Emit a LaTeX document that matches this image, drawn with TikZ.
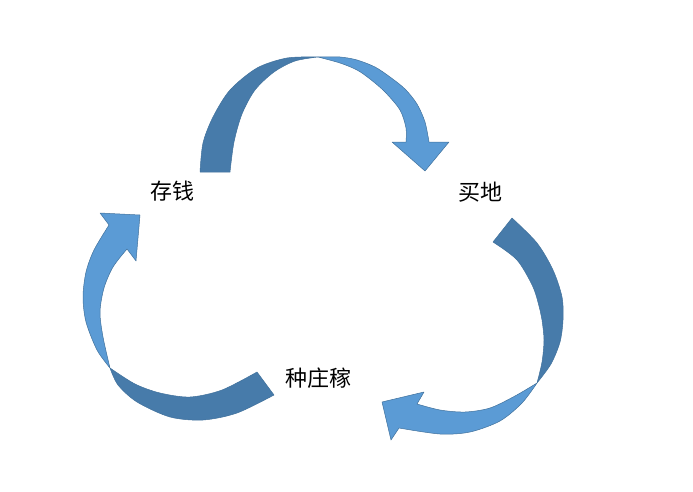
\documentclass[tikz,border=0pt]{standalone}
\usepackage{fontspec}
\newfontfamily\cjk{Noto Sans CJK SC}
\usepackage{xcolor}
\definecolor{backblue}{HTML}{477BAA}
\definecolor{frontblue}{HTML}{5B9BD5}
\definecolor{edgeblue}{HTML}{41719C}

\begin{document}
\begin{tikzpicture}[x=1pt,y=-1pt,
  back/.style={fill=backblue,draw=edgeblue,line width=0.5pt,line join=round},
  front/.style={fill=frontblue,draw=edgeblue,line width=0.5pt,line join=round},
  lbl/.style={font=\cjk\fontsize{22}{26}\selectfont}]
  \useasboundingbox (0,0) rectangle (693,492);
  % 上方箭头：存钱 -> 买地
  \path[back] (200,172) -- plot[smooth] coordinates {(200,172) (203,143) (213,117) (230,90) (257,68) (287,58) (318,57)}
    -- plot[smooth] coordinates {(318,57) (295,61) (274,72) (255,90) (242,114) (234,142) (230,172)} -- cycle;
  \path[front] (318,57) -- plot[smooth] coordinates {(318,57) (340,57) (357,60) (375,67) (390,77) (405,89) (417,104) (425,122) (429,142)}
    -- (449,142) -- (425,171) -- (392,142) -- (406,142)
    -- plot[smooth] coordinates {(406,142) (406,128) (400,110) (385,92) (370,79) (357,70) (340,63) (318,57)} -- cycle;
  % 右侧箭头：买地 -> 种庄稼
  \path[back] (512,218) -- plot[smooth] coordinates {(512,218) (537,243) (553,270) (562,297) (563,320) (560,342) (551,364) (537,383)}
    -- plot[smooth] coordinates {(537,383) (542,362) (544,340) (542,320) (540,310) (533,287) (517,260) (493,242)} -- cycle;
  \path[front] (537,383) -- plot[smooth] coordinates {(537,383) (522,403) (500,421) (470,432) (440,434) (399,428)}
    -- (391,440) -- (382,402) -- (424,392) -- (417,404)
    -- plot[smooth] coordinates {(417,404) (440,410) (465,412) (490,408) (515,396) (537,383)} -- cycle;
  % 左侧箭头：种庄稼 -> 存钱
  \path[back] (274,395) -- plot[smooth] coordinates {(274,395) (237,413) (203,420) (170,417) (137,402) (118,385) (110,368)}
    -- plot[smooth] coordinates {(110,368) (135,384) (160,393) (190,397) (222,390) (257,372)} -- cycle;
  \path[front] (110,368) -- plot[smooth] coordinates {(110,368) (97,350) (86,322) (83,297) (86,272) (94,250) (109,225)}
    -- (100,213) -- (140,215) -- (136,261) -- (127,249)
    -- plot[smooth] coordinates {(127,249) (113,267) (104,288) (100,312) (103,337) (110,368)} -- cycle;
  \node[lbl] (cunqian) at (172,191) {存钱};
  \node[lbl] (maidi) at (480,192) {买地};
  \node[lbl] (zhong) at (318,378) {种庄稼};
\end{tikzpicture}
\end{document}
